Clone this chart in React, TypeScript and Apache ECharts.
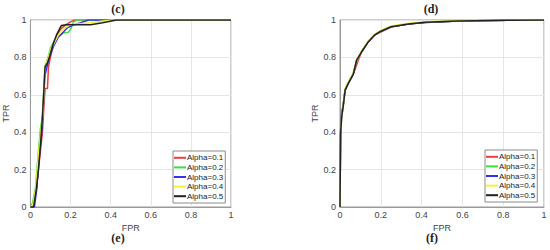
import React, { useEffect, useRef } from "react";
import * as echarts from "echarts";

const seriesNames = ["Alpha=0.1", "Alpha=0.2", "Alpha=0.3", "Alpha=0.4", "Alpha=0.5"];
const seriesColors = ["#f03c3c", "#3ee03e", "#3333ee", "#f2f23a", "#222222"];
const tickLabels = ["0", "0.2", "0.4", "0.6", "0.8", "1"];
const panelTitles = ["(c)", "(d)"];
const panelCaptions = ["(e)", "(f)"];

// Panel (c): [FPR, TPR]
const leftA01 = [[0,0],[0.016,0],[0.03,0.1],[0.045,0.25],[0.06,0.4],[0.068,0.55],[0.073,0.634],[0.085,0.634],[0.09,0.75],[0.1,0.8],[0.115,0.87],[0.13,0.91],[0.15,0.95],[0.17,0.97],[0.2,0.99],[0.22,1],[1,1]];
const leftA02 = [[0,0],[0.01,0.02],[0.025,0.1],[0.04,0.3],[0.05,0.42],[0.06,0.48],[0.066,0.62],[0.072,0.75],[0.085,0.79],[0.1,0.85],[0.12,0.89],[0.14,0.91],[0.16,0.93],[0.19,0.935],[0.2,0.95],[0.215,0.99],[0.235,1],[1,1]];
const leftA03 = [[0,0],[0.02,0],[0.032,0.1],[0.042,0.25],[0.055,0.38],[0.065,0.55],[0.072,0.7],[0.085,0.76],[0.1,0.82],[0.12,0.87],[0.14,0.91],[0.16,0.93],[0.185,0.96],[0.22,0.975],[0.25,0.985],[0.29,1],[1,1]];
const leftA04 = [[0,0],[0.012,0.01],[0.027,0.1],[0.04,0.28],[0.052,0.4],[0.062,0.5],[0.068,0.63],[0.073,0.75],[0.087,0.79],[0.1,0.84],[0.12,0.88],[0.14,0.92],[0.16,0.95],[0.2,0.975],[0.3,0.985],[0.4,1],[1,1]];
const leftA05 = [[0,0],[0.016,0],[0.03,0.1],[0.04,0.2],[0.05,0.33],[0.058,0.45],[0.066,0.6],[0.073,0.75],[0.085,0.77],[0.097,0.81],[0.113,0.87],[0.13,0.92],[0.154,0.97],[0.18,0.975],[0.3,0.975],[0.36,0.985],[0.43,1],[1,1]];

// Panel (d): [FPR, TPR]
const rightA01 = [[0,0],[0.003,0.39],[0.008,0.48],[0.016,0.54],[0.025,0.625],[0.04,0.66],[0.065,0.71],[0.085,0.77],[0.095,0.8],[0.106,0.83],[0.139,0.884],[0.17,0.92],[0.2,0.935],[0.25,0.962],[0.335,0.978],[0.417,0.987],[0.58,0.995],[0.825,0.998],[1,1]];
const rightA02 = [[0,0],[0.003,0.4],[0.008,0.49],[0.016,0.55],[0.025,0.63],[0.04,0.665],[0.065,0.715],[0.082,0.786],[0.106,0.832],[0.139,0.886],[0.17,0.922],[0.2,0.94],[0.25,0.964],[0.335,0.979],[0.417,0.988],[0.58,0.995],[0.825,0.998],[1,1]];
const rightA03 = [[0,0],[0.003,0.41],[0.008,0.5],[0.016,0.55],[0.025,0.625],[0.04,0.66],[0.065,0.71],[0.082,0.786],[0.106,0.83],[0.139,0.884],[0.17,0.92],[0.2,0.94],[0.25,0.964],[0.335,0.979],[0.417,0.987],[0.58,0.995],[0.825,0.998],[1,1]];
const rightA04 = [[0,0],[0.003,0.39],[0.008,0.48],[0.016,0.545],[0.025,0.63],[0.04,0.665],[0.065,0.72],[0.082,0.78],[0.106,0.835],[0.139,0.89],[0.17,0.925],[0.2,0.945],[0.25,0.968],[0.335,0.982],[0.417,0.99],[0.58,0.996],[0.825,0.998],[1,1]];
const rightA05 = [[0,0],[0.003,0.39],[0.008,0.48],[0.016,0.54],[0.025,0.625],[0.04,0.66],[0.065,0.71],[0.082,0.786],[0.106,0.83],[0.139,0.884],[0.17,0.92],[0.2,0.94],[0.25,0.964],[0.335,0.979],[0.417,0.9875],[0.58,0.995],[0.825,0.998],[1,1]];

const leftData = [leftA01, leftA02, leftA03, leftA04, leftA05];
const rightData = [rightA01, rightA02, rightA03, rightA04, rightA05];

const grids = [
  { left: 25, top: 20, width: 206, height: 187 },
  { left: 340, top: 20, width: 204, height: 187 },
];

const tickColor = "#444";
const fontFamily = "Liberation Sans, Arial, sans-serif";

function axisCommon(name: string, isY: boolean, gridIndex: number) {
  return {
    type: "value",
    gridIndex,
    min: 0,
    max: 1,
    interval: 0.2,
    name,
    nameLocation: "middle",
    nameGap: isY ? 17 : 14,
    nameTextStyle: { color: tickColor, fontSize: 9, fontFamily },
    axisLine: { show: true, lineStyle: { color: "#9a9a9a", width: 1 } },
    axisTick: { show: false },
    axisLabel: {
      color: tickColor,
      fontSize: 9,
      fontFamily,
      margin: isY ? 4 : 3,
      formatter: (v: number) => tickLabels[Math.round(v * 5)] ?? "",
    },
    splitLine: { show: true, lineStyle: { color: "#e6e6e6", width: 1 } },
  };
}

export default function App() {
  const ref = useRef<HTMLDivElement>(null);
  useEffect(() => {
    if (!ref.current) return;
    const chart = echarts.init(ref.current, undefined, { renderer: "svg" });
    const series: any[] = [];
    [leftData, rightData].forEach((set, gi) => {
      set.forEach((d, i) => {
        series.push({
          type: "line",
          name: seriesNames[i],
          xAxisIndex: gi,
          yAxisIndex: gi,
          data: d,
          showSymbol: false,
          symbol: "none",
          lineStyle: { color: seriesColors[i], width: 1.5 },
          itemStyle: { color: seriesColors[i] },
          z: 2 + i,
        });
      });
    });
    const legendBase = {
      orient: "vertical",
      data: seriesNames.map((n) => ({ name: n, icon: "rect" })),
      itemWidth: 12,
      itemHeight: 2,
      itemGap: 0,
      selectedMode: false,
      backgroundColor: "#fff",
      borderColor: "#8c8c8c",
      borderWidth: 1,
      borderRadius: 0,
      padding: [2, 2, 2, 1],
      textStyle: { fontSize: 8, fontFamily, color: "#222", padding: [0, 0, 0, -4], lineHeight: 9.6, height: 9.6 },
    };
    const titleStyle = { fontFamily: "Liberation Serif, DejaVu Serif, serif", fontWeight: "bold", fontSize: 12, color: "#222" };
    chart.setOption({
      animation: false,
      backgroundColor: "#fff",
      grid: grids.map((g) => ({ ...g, show: true, borderColor: "#9a9a9a", borderWidth: 1, backgroundColor: "transparent" })),
      xAxis: [axisCommon("FPR", false, 0), axisCommon("FPR", false, 1)],
      yAxis: [axisCommon("TPR", true, 0), axisCommon("TPR", true, 1)],
      title: [
        { text: panelTitles[0], left: 118, top: 3, textAlign: "center", textStyle: titleStyle, padding: 0 },
        { text: panelTitles[1], left: 431, top: 3, textAlign: "center", textStyle: titleStyle, padding: 0 },
        { text: panelCaptions[0], left: 118, top: 232, textAlign: "center", textStyle: titleStyle, padding: 0 },
        { text: panelCaptions[1], left: 432, top: 232, textAlign: "center", textStyle: titleStyle, padding: 0 },
      ],
      legend: [
        { ...legendBase, left: 173, top: 151 },
        { ...legendBase, left: 485, top: 150 },
      ],
      series,
    });
    return () => chart.dispose();
  }, []);
  return <div ref={ref} style={{ position: "absolute", left: 0, top: 0, width: 550, height: 250 }} />;
}
